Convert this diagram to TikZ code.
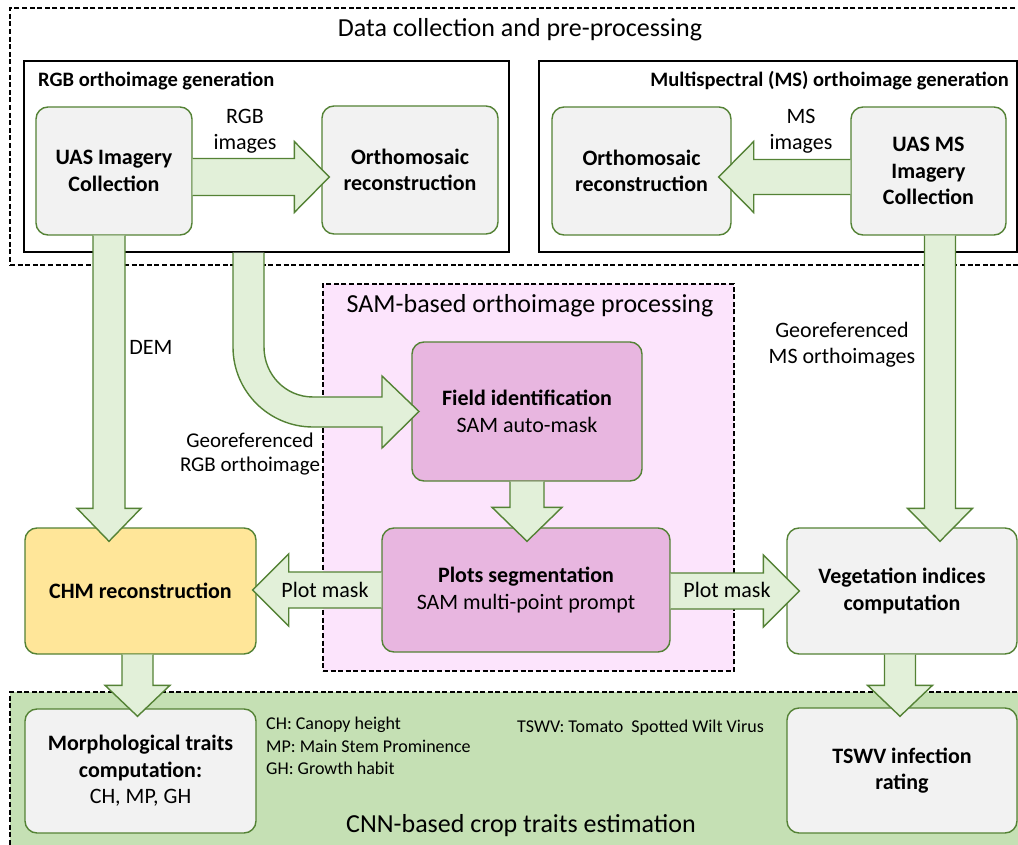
\documentclass[tikz,border=0pt]{standalone}
\usepackage{fontspec}
\setmainfont{Carlito}
\usetikzlibrary{calc}
\definecolor{bord}{HTML}{548235}
\definecolor{afill}{HTML}{E2F0D9}
\definecolor{gfill}{HTML}{F2F2F2}
\definecolor{pfill}{HTML}{E8B6E0}
\definecolor{sambg}{HTML}{FCE4FC}
\definecolor{cnnbg}{HTML}{C5E0B4}
\definecolor{yfill}{HTML}{FFE699}
\newcommand{\fsBox}{\fontsize{22}{26.4}\selectfont}
\newcommand{\fsTitle}{\fontsize{26}{31}\selectfont}
\newcommand{\fsSub}{\fontsize{20.5}{24}\selectfont}
\newcommand{\fsSmall}{\fontsize{18}{22.5}\selectfont}
% horizontal block arrow: start, tip, half shaft, half head, signed head length
\newcommand{\barrowH}[5]{\draw[barrow] let \p1=#1, \p2=#2 in
  ({\x1},{\y2+#3}) -- ({\x2-(#5)},{\y2+#3}) -- ({\x2-(#5)},{\y2+#4}) -- (\x2,\y2) --
  ({\x2-(#5)},{\y2-#4}) -- ({\x2-(#5)},{\y2-#3}) -- ({\x1},{\y2-#3});}
% downward block arrow: start, tip, half shaft, half head, head length
\newcommand{\barrowV}[5]{\draw[barrow] let \p1=#1, \p2=#2 in
  ({\x2-#3},{\y1}) -- ({\x2-#3},{\y2+#5}) -- ({\x2-#4},{\y2+#5}) -- (\x2,\y2) --
  ({\x2+#4},{\y2+#5}) -- ({\x2+#3},{\y2+#5}) -- ({\x2+#3},{\y1});}
\begin{document}
\begin{tikzpicture}[x=1pt,y=-1pt,
  box/.style={draw=bord, line width=1.4pt, rounded corners=12pt, align=center,
    inner sep=0pt, font=\fsBox},
  frame/.style={draw=black, line width=1.4pt, inner sep=0pt},
  dframe/.style={draw=black, line width=1.4pt, dash pattern=on 5pt off 2.6pt, inner sep=0pt},
  barrow/.style={draw=bord, fill=afill, line width=1.4pt, line join=miter},
  lbl/.style={font=\fsBox, align=center, inner sep=0pt}]
\useasboundingbox (0,0) rectangle (1018,845);
\fill[white] (0,0) rectangle (1018,845);

% containers
\node[dframe, minimum width=1020pt, minimum height=257pt] (datacol) at (520,136.5) {};
\node[font=\fsTitle, inner sep=0pt] (datatitle) at (520,30) {Data collection and pre-processing};
\node[frame, minimum width=485pt, minimum height=191pt] (rgbbox) at (266.5,156.5) {};
\node[frame, minimum width=478pt, minimum height=191pt] (msbox) at (778,156.5) {};
\node[font=\fsSub\bfseries, anchor=west, inner sep=0pt] (rgbtitle) at (38,81) {RGB orthoimage generation};
\node[font=\fsSub\bfseries, anchor=east, inner sep=0pt] (mstitle) at (1009,81) {Multispectral (MS) orthoimage generation};

\node[dframe, fill=sambg, minimum width=411pt, minimum height=387pt] (sam) at (528.5,477.5) {};
\node[font=\fsTitle, inner sep=0pt] (samtitle) at (530,306) {SAM-based orthoimage processing};

\node[dframe, fill=cnnbg, minimum width=1020pt, minimum height=168pt] (cnn) at (520,776) {};
\node[font=\fsTitle, inner sep=0pt] (cnntitle) at (521,826) {CNN-based crop traits estimation};

% boxes
\node[box, fill=gfill, minimum width=156pt, minimum height=128pt] (uas) at (114,171) {\textbf{UAS Imagery}\\\textbf{Collection}};
\node[box, fill=gfill, minimum width=176pt, minimum height=128pt] (ortho1) at (410,170) {\textbf{Orthomosaic}\\\textbf{reconstruction}};
\node[box, fill=gfill, minimum width=179pt, minimum height=128pt] (ortho2) at (641.5,171) {\textbf{Orthomosaic}\\\textbf{reconstruction}};
\node[box, fill=gfill, minimum width=155pt, minimum height=128pt] (usms) at (928.5,171) {\textbf{UAS MS}\\\textbf{Imagery}\\\textbf{Collection}};
\node[box, fill=pfill, minimum width=230pt, minimum height=139pt] (field) at (527,411.5) {\textbf{Field identification}\\SAM auto-mask};
\node[box, fill=pfill, minimum width=288pt, minimum height=124pt] (plots) at (526,590) {\textbf{Plots segmentation}\\SAM multi-point prompt};
\node[box, fill=yfill, minimum width=231pt, minimum height=126pt] (chm) at (140.5,591) {\textbf{CHM reconstruction}};
\node[box, fill=gfill, minimum width=230pt, minimum height=126pt] (veg) at (902,591) {\textbf{Vegetation indices}\\\textbf{computation}};
\node[box, fill=gfill, minimum width=231pt, minimum height=124pt] (morph) at (140.5,771) {\textbf{Morphological traits}\\\textbf{computation:}\\CH, MP, GH};
\node[box, fill=gfill, minimum width=230pt, minimum height=125pt] (tswv) at (902,770.5) {\textbf{TSWV infection}\\\textbf{rating}};

% block arrows
\barrowH{(uas.east)}{($(ortho1.west)+(8,7)$)}{18.5pt}{35.5pt}{35pt}
\barrowH{(usms.west)}{($(ortho2.east)+(-13,6)$)}{17.5pt}{35.5pt}{-35pt}
\barrowV{(uas.south)}{($(chm.north)+(-31.5,14)$)}{16pt}{32pt}{33pt}
\barrowV{(usms.south)}{($(veg.north)+(38,14)$)}{15.5pt}{32.5pt}{33pt}
\barrowV{(field.south)}{($(plots.north)+(1,14)$)}{17pt}{35pt}{34pt}
\barrowV{(chm.south)}{($(morph.north)+(-3,8)$)}{15.5pt}{32.5pt}{31pt}
\barrowV{(veg.south)}{($(tswv.north)+(-2,9)$)}{15.5pt}{32.5pt}{31pt}
\barrowH{(plots.west)}{($(chm.east)+(-4,-1)$)}{18pt}{36pt}{-36pt}
\barrowH{(plots.east)}{($(veg.west)+(13,0)$)}{18pt}{36pt}{36pt}
% curved arrow from RGB block to field identification
\coordinate (cA) at (rgbbox.south -| 233,0);
\coordinate (cB) at (rgbbox.south -| 264,0);
\coordinate (cT) at (field.west -| 419,0);
\draw[barrow] (cB) -- (264,347) .. controls (264,374.6) and (285.4,397) .. (313,397)
  -- (382,397) -- (382,376) -- (cT) -- (382,448) -- (382,427) -- (313,427)
  .. controls (268.8,427) and (233,391.2) .. (233,347) -- (cA);

% labels
\node[lbl] (lrgb) at (245,131) {RGB\\images};
\node[lbl] (lms) at (801,131) {MS\\images};
\node[lbl] (ldem) at (151,347) {DEM};
\node[lbl] (lgeomS) at (842,345) {Georeferenced\\MS orthoimages};
\node[lbl, font=\fontsize{21}{24}\selectfont] (lgeoR) at (250,454) {Georeferenced\\RGB orthoimage};
\node[lbl] (pml) at (325,590) {Plot mask};
\node[lbl] (pmr) at (727,590) {Plot mask};
\node[font=\fsSmall, align=left, anchor=west, inner sep=0pt] (legend) at (266,746) {CH: Canopy height\\MP: Main Stem Prominence\\GH: Growth habit};
\node[font=\fsSmall, anchor=west, inner sep=0pt] (legend2) at (517,728) {TSWV: Tomato\ \ Spotted Wilt Virus};
\end{tikzpicture}
\end{document}
